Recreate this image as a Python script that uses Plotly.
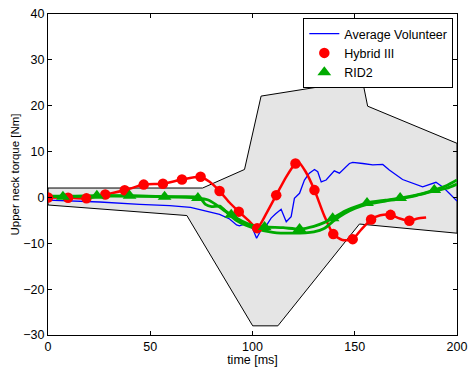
import plotly.graph_objects as go

# Corridor polygon (time ms, torque Nm)
corr_t = [0, 75.6, 96.1, 104.2, 132.4, 134.7, 138.0, 149.5, 152.3, 156.3, 200, 200, 152.3, 112.4, 100.1, 67.9, 0, 0]
corr_v = [2.05, 2.05, 6.1, 22.1, 24.1, 28.7, 35.0, 35.0, 28.7, 19.9, 11.8, -7.8, -5.8, -28.0, -28.0, -3.95, -1.65, 2.05]

# Average volunteer
vol_t = [0, 25.3, 44.8, 59.5, 69.7, 74.1, 79, 83.9, 88.8, 92.2, 93.6, 96.1, 98.5, 100, 102, 104.2, 106.7, 109.1,
         111.2, 114, 116.5, 118.9, 120.5, 123, 125.4, 127.8, 130.3, 131.9, 133.6, 136, 140, 142.5, 147.4, 149,
         153.9, 158.8, 163.7, 166.9, 173.4, 178.3, 183.2, 189.7, 193, 196.2, 200]
vol_v = [-0.57, -1.0, -1.5, -1.77, -2.16, -2.6, -3.07, -3.7, -4.7, -6.0, -6.2, -5.8, -6.2, -6.7, -8.9, -7.1, -6.2, -4.5,
         -3.6, -2.6, -5.3, -4.2, -0.2, 0.9, 3.8, 5.3, 6.1, 5.6, 3.4, 3.8, 5.8, 5.3, 7.4, 7.65,
         7.4, 7.1, 7.2, 6.0, 3.9, 3.1, 2.3, 3.3, 2.3, 0.9, -0.8]

# Hybrid III
h3_t = [0, 9.8, 18.8, 28, 37.5, 46.8, 56.2, 65.5, 74.6, 79, 83.9, 88.5, 93.3, 98, 102.3, 107, 111.6, 116.5,
        121, 122.5, 126, 130.3, 135, 139.5, 144, 149, 153, 158, 162.5, 167.5, 172, 176.7, 180.8, 184.9]
h3_v = [0, -0.07, -0.2, 0.63, 1.55, 2.8, 3.0, 3.9, 4.5, 3.4, 1.4, -1.0, -3.1, -5.0, -6.7, -3.3, 0.5, 4.5,
        7.4, 7.7, 5.6, 1.6, -3.9, -8.0, -9.3, -9.1, -7.1, -4.8, -3.9, -3.8, -4.6, -5.1, -4.6, -4.4]
h3_mt = [0, 9.8, 18.8, 28, 37.5, 46.8, 56.2, 65.5, 74.6, 83.9, 93.3, 102.3, 111.6, 121, 130.3, 139.5, 149, 158, 167.5, 176.7]
h3_mv = [0, -0.07, -0.2, 0.63, 1.55, 2.8, 3.0, 3.9, 4.5, 1.4, -3.1, -6.7, 0.5, 7.4, 1.6, -8.0, -9.1, -4.8, -3.8, -5.1]

# RID2 (two tests)
ridA_t = [0, 7.3, 23.9, 39.9, 57, 73.3, 78, 82, 86, 89.6, 95, 100, 105.9, 115, 123, 130, 135, 139.2, 145, 150,
          156, 165, 172.2, 180, 188.9, 195, 200]
ridA_v = [0.3, 0.15, 0.37, 0.37, 0.15, -0.13, -0.5, -1.5, -2.8, -3.8, -5.2, -6.1, -6.45, -6.6, -6.9, -6.3, -5.5,
          -4.55, -3.0, -2.1, -1.2, -0.6, -0.13, 0.5, 1.6, 2.6, 3.8]
ridB_t = [0, 20, 40, 60, 74, 77, 80, 84, 88, 92, 100, 110, 120, 130, 135, 140, 145, 150, 156, 165, 172, 180,
          188, 195, 200]
ridB_v = [0.3, 0.3, 0.3, 0.15, 0.0, -1.5, -2.0, -1.9, -3.5, -5.0, -6.6, -7.6, -7.8, -7.5, -6.8, -5.0, -3.5,
          -2.4, -1.5, -0.8, -0.3, 0.4, 1.3, 2.0, 2.9]
rid_mt = [7.3, 23.9, 39.9, 57, 73.3, 89.6, 105.9, 123, 139.2, 156, 172.2, 188.9]
rid_mv = [0.15, 0.37, 0.37, 0.15, -0.13, -3.8, -6.45, -6.9, -4.55, -1.2, -0.13, 1.6]

RED = "rgb(255,0,0)"
GREEN = "rgb(0,170,0)"
BLUE = "rgb(0,0,255)"

fig = go.Figure()
fig.add_trace(go.Scatter(x=corr_t, y=corr_v, mode="lines", fill="toself",
                         fillcolor="rgb(229,229,229)", line=dict(color="black", width=1),
                         showlegend=False, hoverinfo="skip"))
fig.add_trace(go.Scatter(x=vol_t, y=vol_v, mode="lines", line=dict(color=BLUE, width=1.3),
                         name="Average Volunteer"))
fig.add_trace(go.Scatter(x=h3_t, y=h3_v, mode="lines", line=dict(color=RED, width=2.5, shape="spline", smoothing=0.6),
                         showlegend=False))
fig.add_trace(go.Scatter(x=ridA_t, y=ridA_v, mode="lines", line=dict(color=GREEN, width=2.8, shape="spline", smoothing=0.6),
                         showlegend=False))
fig.add_trace(go.Scatter(x=ridB_t, y=ridB_v, mode="lines", line=dict(color=GREEN, width=2.8, shape="spline", smoothing=0.6),
                         showlegend=False))
fig.add_trace(go.Scatter(x=h3_mt, y=h3_mv, mode="markers", marker=dict(color=RED, size=10.5, symbol="circle"),
                         name="Hybrid III"))
fig.add_trace(go.Scatter(x=rid_mt, y=rid_mv, mode="markers", marker=dict(color=GREEN, size=12, symbol="triangle-up"),
                         name="RID2"))

FONT = "Liberation Sans, Arial, sans-serif"
axis_common = dict(showgrid=False, zeroline=False, showline=True, linecolor="black", linewidth=1,
                   mirror="ticks", ticks="inside", ticklen=4, tickcolor="black", automargin=False,
                   tickfont=dict(family=FONT, size=12.5, color="black"))
fig.update_layout(
    width=469, height=367,
    margin=dict(l=48, r=11.5, t=14, b=32),
    paper_bgcolor="white", plot_bgcolor="white",
    font=dict(family=FONT, size=12, color="black"),
    xaxis=dict(range=[0, 200], tickvals=[0, 50, 100, 150, 200],
               title=dict(text="time [ms]", font=dict(family=FONT, size=12.5), standoff=0), **axis_common),
    yaxis=dict(range=[-30, 40], tickvals=[-30, -20, -10, 0, 10, 20, 30, 40],
               title=dict(text="Upper neck torque [Nm]", font=dict(family=FONT, size=11.5), standoff=1), **axis_common),
    legend=dict(x=0.991, y=0.9875, xanchor="right", yanchor="top", bgcolor="white",
                bordercolor="black", borderwidth=1, font=dict(family=FONT, size=12.5),
                tracegroupgap=0, itemwidth=30),
    showlegend=True,
)
fig.write_html("out.html")
